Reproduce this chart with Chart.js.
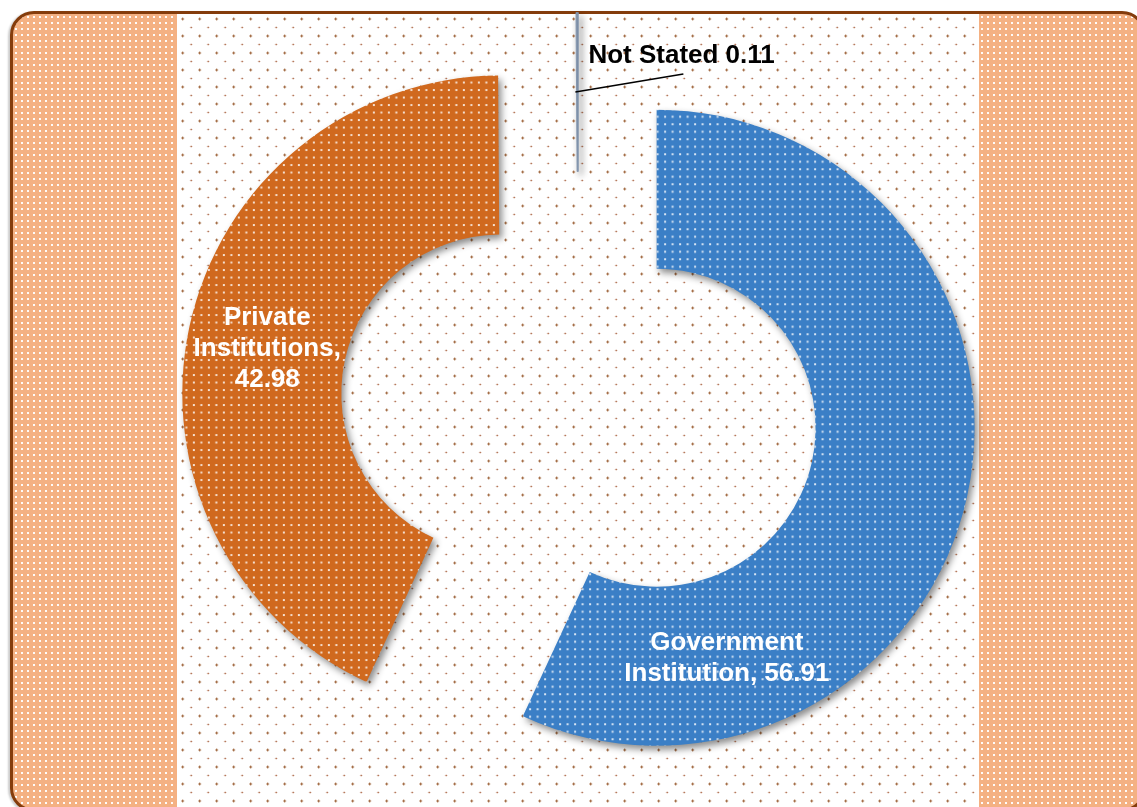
<!DOCTYPE html>
<html>
<head>
<meta charset="utf-8">
<script src="https://cdn.jsdelivr.net/npm/chart.js@4/dist/chart.umd.min.js"></script>
<style>
    html, body { margin: 0; padding: 0; background: #fff; overflow: hidden; }
    #frame {
        position: absolute; left: 10px; top: 11px; width: 1130px; height: 795px;
        border: 3px solid #843c0c; border-radius: 24px; overflow: hidden;
        background-color: #f4b183;
        background-image: radial-gradient(circle, rgba(255,255,255,0.95) 1px, transparent 1.4px);
        background-size: 6px 6px;
        box-shadow: -2px 1px 2px rgba(0,0,0,0.2);
    }
    #middle {
        position: absolute; left: 164px; top: 0; width: 802px; height: 100%;
        background-color: #fff;
        background-image:
            radial-gradient(circle, #8b4513 0.9px, transparent 1.3px),
            radial-gradient(circle, #a0522d 0.7px, transparent 1.1px);
        background-size: 17px 17px, 17px 17px;
        background-position: -2.8px -3.5px, 5.7px 5px;
    }
    #c { position: absolute; left: 0; top: 0; }
</style>
</head>
<body>
<div id="frame"><div id="middle"></div></div>
<canvas id="c" width="1137" height="807"></canvas>
<script>
/*** DATA ***/
const categories = ["Government Institution", "Private Institutions", "Not Stated"];
const shares = [56.91, 42.98, 0.11];

document.addEventListener("DOMContentLoaded", () => {

    /* -------------------------------------------------------------
       DOTTED FILLS FOR THE SLICES
    -------------------------------------------------------------- */
    function dotted(color) {
        const tile = document.createElement("canvas");
        tile.width = 15; tile.height = 15;
        const t = tile.getContext("2d");
        t.fillStyle = color;
        t.fillRect(0, 0, 15, 15);
        t.fillStyle = "rgba(255,255,255,0.8)";
        [[1, 1], [8.5, 1], [1, 8.5], [8.5, 8.5]].forEach(([x, y]) => t.fillRect(x, y, 2, 2));
        return t.createPattern(tile, "repeat");
    }
    const ctx = document.getElementById("c").getContext("2d");
    const fills = [dotted("#3b7fc6"), dotted("#d0691e"), "#8497b0"];

    // label lines for every slice, value read from the data
    const labelLines = [
        ["Government", "Institution, " + shares[0]],
        ["Private", "Institutions,", String(shares[1])],
        ["Not Stated " + shares[2]]
    ];
    const labelAt = [0.795, 0.5, 0.5];   // where along the slice the label sits
    const labelDy = [3, 6, 0];
    const EXPLODE = 80;                  // how far every slice is pulled out

    /* -------------------------------------------------------------
       EXPLODED SLICES (each arc drawn by chart.js, moved outwards)
    -------------------------------------------------------------- */
    const explodePlugin = {
        id: "explode",
        beforeDatasetDraw(chart, args) {
            const c = chart.ctx;
            args.meta.data.forEach(arc => {
                const half = (arc.startAngle + arc.endAngle) / 2;
                c.save();
                c.translate(Math.cos(half) * EXPLODE, Math.sin(half) * EXPLODE);
                c.shadowColor = "rgba(0,0,0,0.45)";
                c.shadowBlur = 7;
                c.shadowOffsetX = 3;
                c.shadowOffsetY = 4;
                arc.draw(c);
                c.restore();
            });
            return false;
        }
    };

    const labelPlugin = {
        id: "sliceLabels",
        afterDraw(chart) {
            const c = chart.ctx;
            const arcs = chart.getDatasetMeta(0).data;
            c.save();
            c.font = "bold 26px 'Liberation Sans', Arial, sans-serif";
            c.textBaseline = "middle";
            arcs.forEach((arc, i) => {
                const p = arc.getProps(["x", "y", "startAngle", "endAngle", "innerRadius", "outerRadius"]);
                const half = (p.startAngle + p.endAngle) / 2;
                const cx = p.x + Math.cos(half) * EXPLODE;
                const cy = p.y + Math.sin(half) * EXPLODE;
                const a = p.startAngle + (p.endAngle - p.startAngle) * labelAt[i];
                const r = (p.innerRadius + p.outerRadius) / 2;
                const lx = cx + Math.cos(a) * r;
                const ly = cy + Math.sin(a) * r + labelDy[i];
                if (i === 2) {
                    // leader line to the outside label
                    c.strokeStyle = "#000";
                    c.lineWidth = 1.5;
                    c.beginPath();
                    c.moveTo(lx - 2, ly);
                    c.lineTo(lx + 106, ly - 18);
                    c.stroke();
                    c.fillStyle = "#000";
                    c.textAlign = "left";
                    c.fillText(labelLines[i][0], lx + 11, ly - 36);
                    return;
                }
                c.fillStyle = "#fff";
                c.textAlign = "center";
                const n = labelLines[i].length;
                labelLines[i].forEach((line, k) => {
                    c.fillText(line, lx, ly + (k - (n - 1) / 2) * 31);
                });
            });
            c.restore();
        }
    };

    /* -------------------------------------------------------------
       DOUGHNUT
    -------------------------------------------------------------- */
    new Chart(ctx, {
        type: "doughnut",
        data: {
            labels: categories,
            datasets: [{
                data: shares,
                backgroundColor: fills,
                borderColor: ["rgba(0,0,0,0)", "rgba(0,0,0,0)", "#8497b0"],
                borderWidth: [0, 0, 1]
            }]
        },
        options: {
            responsive: false,
            animation: false,
            events: [],
            radius: 318,
            cutout: "50%",
            layout: { padding: { left: 20, top: 14 } },
            plugins: { legend: { display: false }, tooltip: { enabled: false } }
        },
        plugins: [explodePlugin, labelPlugin]
    });

});
</script>
</body>
</html>
